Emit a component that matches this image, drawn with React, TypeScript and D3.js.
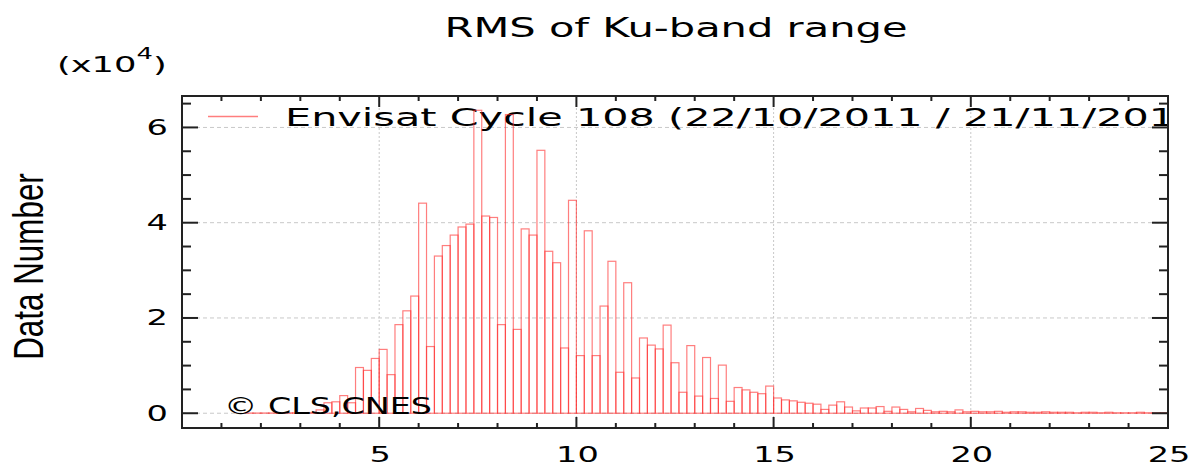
import React, { useEffect, useRef } from "react";
import * as d3 from "d3";

// histogram of RMS of Ku-band range, counts in units of 1e4
const BIN_START = 1.6;
const BIN_WIDTH = 0.2;
const counts = [
  0.004, 0.004, 0.005, 0.005, 0.006, 0.007, 0.008, 0.01, 0.015, 0.07,
  0.22, 0.24, 0.37, 0.22, 0.96, 0.9, 1.15, 1.34, 0.81, 1.86,
  2.15, 2.46, 4.41, 1.4, 3.3, 3.52, 3.74, 3.91, 3.97, 6.36,
  4.14, 4.11, 1.86, 6.27, 1.76, 3.87, 3.74, 5.52, 3.4, 3.16,
  1.37, 4.47, 1.21, 3.83, 1.21, 2.25, 3.19, 0.86, 2.74, 0.74,
  1.58, 1.43, 1.35, 1.85, 1.06, 0.44, 1.42, 0.36, 1.17, 0.31,
  1.01, 0.25, 0.54, 0.49, 0.44, 0.41, 0.57, 0.32, 0.28, 0.26,
  0.23, 0.21, 0.19, 0.08, 0.17, 0.24, 0.13, 0.05, 0.11, 0.11,
  0.14, 0.04, 0.13, 0.08, 0.03, 0.1, 0.06, 0.03, 0.04, 0.03,
  0.07, 0.03, 0.04, 0.03, 0.03, 0.04, 0.02, 0.03, 0.03, 0.02,
  0.02, 0.03, 0.02, 0.02, 0.02, 0.01, 0.02, 0.02, 0.01, 0.02,
  0.01, 0.01, 0.01, 0.02, 0.01, 0.01, 0.01,
];

const xTicks = [5, 10, 15, 20, 25];
const yTicks = [0, 2, 4, 6];
const title = "RMS of Ku-band range";
const legendLabel = "Envisat Cycle 108 (22/10/2011 / 21/11/2011)";
const copyright = "\u00A9 CLS,CNES";
const yLabel = "Data Number";

const BAR_COLOR = "rgba(255,40,40,0.6)";
const FONT = "DejaVu Sans, Verdana, sans-serif";

export default function App() {
  const svgRef = useRef<SVGSVGElement | null>(null);

  useEffect(() => {
    const width = 1191;
    const height = 467;
    const plot = { left: 182, right: 1168, top: 96, bottom: 428 };

    const x = d3.scaleLinear().domain([0, 25]).range([plot.left, plot.right]);
    const y = d3.scaleLinear().domain([-0.31, 6.66]).range([plot.bottom, plot.top]);

    const svg = d3.select(svgRef.current).attr("width", width).attr("height", height);
    svg.selectAll("*").remove();

    svg.append("rect").attr("width", width).attr("height", height).attr("fill", "white");

    // clip for plot area
    svg
      .append("clipPath")
      .attr("id", "plotClip")
      .append("rect")
      .attr("x", plot.left)
      .attr("y", plot.top)
      .attr("width", plot.right - plot.left)
      .attr("height", plot.bottom - plot.top);

    // grid
    const grid = svg.append("g");
    grid
      .selectAll("line.hg")
      .data(yTicks)
      .enter()
      .append("line")
      .attr("x1", plot.left)
      .attr("x2", plot.right)
      .attr("y1", (d) => y(d))
      .attr("y2", (d) => y(d))
      .attr("stroke", "#c8c8c8")
      .attr("stroke-width", 1)
      .attr("stroke-dasharray", "4,3");
    grid
      .selectAll("line.vg")
      .data(xTicks.filter((t) => t < 25))
      .enter()
      .append("line")
      .attr("x1", (d) => x(d))
      .attr("x2", (d) => x(d))
      .attr("y1", plot.top)
      .attr("y2", plot.bottom)
      .attr("stroke", "#c8c8c8")
      .attr("stroke-width", 1)
      .attr("stroke-dasharray", "2,2");

    // legend (clipped at the frame, as in the original)
    const legend = svg.append("g").attr("clip-path", "url(#plotClip)");
    legend
      .append("line")
      .attr("x1", 208)
      .attr("x2", 258)
      .attr("y1", 116.5)
      .attr("y2", 116.5)
      .attr("stroke", BAR_COLOR)
      .attr("stroke-width", 1.3);
    legend
      .append("text")
      .attr("transform", "translate(285,126) scale(1.69,1)")
      .style("font-family", FONT)
      .style("font-size", "24.5px")
      .style("fill", "black")
      .text(legendLabel);

    // bars
    svg
      .append("g")
      .attr("clip-path", "url(#plotClip)")
      .selectAll("rect")
      .data(counts)
      .enter()
      .append("rect")
      .attr("x", (_, i) => x(BIN_START + i * BIN_WIDTH))
      .attr("width", (_, i) => x(BIN_START + (i + 1) * BIN_WIDTH) - x(BIN_START + i * BIN_WIDTH))
      .attr("y", (d) => y(d))
      .attr("height", (d) => y(0) - y(d))
      .attr("fill", "none")
      .attr("stroke", BAR_COLOR)
      .attr("stroke-width", 1.2);

    // copyright
    svg
      .append("text")
      .attr("transform", "translate(224,414) scale(1.45,1)")
      .style("font-family", FONT)
      .style("font-size", "23px")
      .style("fill", "black")
      .text(copyright);

    // ticks
    const tickColor = "#222";
    const yMinor = d3.range(0.5, 6.6, 0.5).filter((v) => v % 2 !== 0);
    const xMinor = d3.range(1, 25, 1).filter((v) => v % 5 !== 0);
    const ticks = svg.append("g").attr("stroke", tickColor).attr("stroke-width", 2);
    const addY = (vals: number[], len: number) => {
      vals.forEach((v) => {
        ticks.append("line").attr("x1", plot.left).attr("x2", plot.left + len).attr("y1", y(v)).attr("y2", y(v));
        ticks.append("line").attr("x1", plot.right).attr("x2", plot.right - len).attr("y1", y(v)).attr("y2", y(v));
      });
    };
    const addX = (vals: number[], len: number) => {
      vals.forEach((v) => {
        ticks.append("line").attr("x1", x(v)).attr("x2", x(v)).attr("y1", plot.bottom).attr("y2", plot.bottom - len);
        ticks.append("line").attr("x1", x(v)).attr("x2", x(v)).attr("y1", plot.top).attr("y2", plot.top + len);
      });
    };
    addY(yTicks, 16);
    addY(yMinor, 9);
    addX(xTicks, 11);
    addX(xMinor, 5);

    // frame
    svg
      .append("rect")
      .attr("x", plot.left)
      .attr("y", plot.top)
      .attr("width", plot.right - plot.left)
      .attr("height", plot.bottom - plot.top)
      .attr("fill", "none")
      .attr("stroke", tickColor)
      .attr("stroke-width", 2);

    // tick labels
    svg
      .append("g")
      .selectAll("text")
      .data(yTicks)
      .enter()
      .append("text")
      .attr("transform", (d) => `translate(168,${y(d) + 7.5}) scale(1.6,1)`)
      .attr("text-anchor", "end")
      .style("font-family", FONT)
      .style("font-size", "21px")
      .style("fill", "black")
      .text((d) => d);
    svg
      .append("g")
      .selectAll("text")
      .data(xTicks)
      .enter()
      .append("text")
      .attr("transform", (d) => `translate(${x(d) + 1},462) scale(1.6,1)`)
      .attr("text-anchor", "middle")
      .style("font-family", FONT)
      .style("font-size", "21px")
      .style("fill", "black")
      .text((d) => d);

    // title
    svg
      .append("text")
      .attr("transform", "translate(676,37) scale(1.6,1)")
      .attr("text-anchor", "middle")
      .style("font-family", FONT)
      .style("font-size", "26px")
      .style("fill", "black")
      .text(title);

    // exponent
    const expo = svg
      .append("text")
      .attr("transform", "translate(57,72) scale(1.72,1)")
      .style("font-family", FONT)
      .style("font-size", "20.5px")
      .style("fill", "black");
    expo.append("tspan").text("(x10");
    expo.append("tspan").attr("dy", -13).style("font-size", "15px").text("4");
    expo.append("tspan").attr("dy", 13).text(")");

    // y label
    svg
      .append("text")
      .attr("transform", "translate(43,266.5) rotate(-90) scale(0.73,1)")
      .attr("text-anchor", "middle")
      .style("font-family", "Liberation Sans, Arial, sans-serif")
      .style("font-size", "43px")
      .style("fill", "black")
      .text(yLabel);
  }, []);

  return <svg ref={svgRef} style={{ display: "block", position: "absolute", left: 0, top: 0 }}></svg>;
}
